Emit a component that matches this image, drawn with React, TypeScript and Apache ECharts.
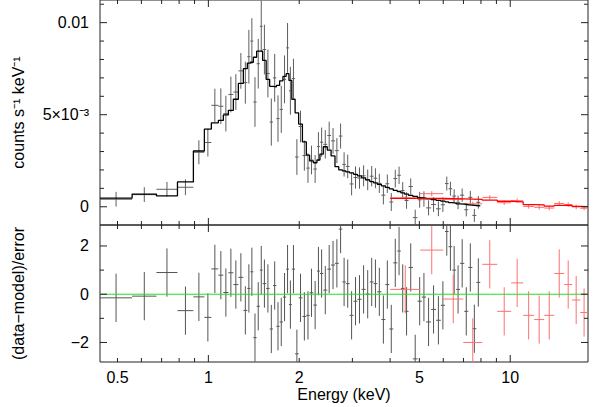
import React, { useEffect, useRef } from 'react';
import * as echarts from 'echarts';

// ---- axis ranges ----
const energyRange = [0.4375, 18.1];
const countsRange = [-0.00099, 0.01123];
const residRange = [-2.81, 2.87];

// ---- ticks ----
const xMajorTicks = [1, 10];
const xMinorTicks = [0.5, 0.6, 0.7, 0.8, 0.9, 2, 3, 4, 5, 6, 7, 8, 9];
const xTickValues = [0.5, 1, 2, 5, 10];
const xTickLabels = ['0.5', '1', '2', '5', '10'];
const countsMajorTicks = [0, 0.005, 0.01];
const countsMinorTicks = [0.001, 0.002, 0.003, 0.004, 0.006, 0.007, 0.008, 0.009, 0.011];
const countsTickLabels = ['0', '5×10⁻³', '0.01'];
const residMajorTicks = [-2, 0, 2];
const residMinorTicks = [-1, 1];
const residTickLabels = ['−2', '0', '2'];

// ---- black spectrum (keV bin edges) ----
const blackEdges = [0.4375, 0.559, 0.673, 0.79, 0.892, 0.970, 1.023, 1.079, 1.121, 1.165, 1.210, 1.257, 1.306, 1.346, 1.378, 1.409, 1.445, 1.481, 1.513, 1.554, 1.596, 1.637, 1.680, 1.722, 1.766, 1.810, 1.849, 1.890, 1.938, 1.991, 2.049, 2.111, 2.165, 2.227, 2.289, 2.342, 2.403, 2.477, 2.550, 2.627, 2.704, 2.780, 2.853, 2.937, 3.028, 3.117, 3.218, 3.318, 3.426, 3.527, 3.627, 3.743, 3.858, 3.975, 4.098, 4.225, 4.342, 4.467, 4.605, 4.759, 4.932, 5.093, 5.263, 5.467, 5.679, 5.888, 6.080, 6.248, 6.427, 6.616, 6.821, 7.044, 7.261, 7.492, 7.723, 7.958];
const blackModel = [0.00047, 0.00069, 0.00059, 0.00135, 0.00303, 0.00422, 0.00456, 0.00469, 0.00499, 0.00524, 0.00584, 0.0067, 0.0075, 0.0078, 0.00785, 0.00812, 0.00845, 0.00845, 0.00795, 0.00692, 0.00654, 0.00651, 0.00659, 0.00684, 0.00708, 0.00723, 0.00686, 0.00584, 0.0051, 0.00449, 0.00353, 0.00281, 0.00249, 0.00239, 0.00254, 0.00286, 0.00326, 0.00308, 0.00276, 0.00218, 0.002, 0.00195, 0.00189, 0.00184, 0.00176, 0.00168, 0.00157, 0.00146, 0.00137, 0.0013, 0.00122, 0.00114, 0.00105, 0.00097, 0.00089, 0.00083, 0.00076, 0.00069, 0.00062, 0.00056, 0.0005, 0.00047, 0.00043, 0.00039, 0.00035, 0.00031, 0.00027, 0.00023, 0.0002, 0.00016, 0.00014, 0.00011, 0.00009, 0.00007, 0.00005];
const blackData = [0.00041, 0.00066, 0.00095, 0.00106, 0.00296, 0.00349, 0.00551, 0.00546, 0.00506, 0.0061, 0.00623, 0.00738, 0.00674, 0.00815, 0.009, 0.00569, 0.00777, 0.0098, 0.00854, 0.00724, 0.0046, 0.007, 0.00479, 0.00529, 0.00692, 0.00863, 0.0063, 0.00696, 0.0027, 0.00436, 0.00278, 0.0021, 0.00254, 0.00205, 0.00327, 0.00351, 0.00339, 0.00387, 0.00358, 0.00305, 0.00384, 0.0023, 0.00219, 0.00124, 0.00159, 0.00156, 0.00168, 0.00146, 0.00166, 0.00155, 0.00127, 0.00063, 0.00125, 0.00026, 0.00153, 0.00171, 0.00088, 0.00034, 0.0011, -0.00059, 0.00038, 0.00042, -0.00006, 0.00012, -0.00011, 0.00011, 0.00126, 0.00098, 0.00058, 0.00024, 0.00063, -0.00016, 0.00051, -0.00047, 0.00024];
const blackErr = [0.0004, 0.0004, 0.0004, 0.00043, 0.00065, 0.00076, 0.0009, 0.00097, 0.00097, 0.00097, 0.00097, 0.00097, 0.00114, 0.00146, 0.00124, 0.00135, 0.00135, 0.0014, 0.00135, 0.0013, 0.00128, 0.0013, 0.00126, 0.00128, 0.0013, 0.00135, 0.0013, 0.00108, 0.00097, 0.00086, 0.00082, 0.0008, 0.00078, 0.00076, 0.00078, 0.00079, 0.00077, 0.00075, 0.0007, 0.00068, 0.00068, 0.00066, 0.00064, 0.00062, 0.0006, 0.00058, 0.00057, 0.00056, 0.00055, 0.00054, 0.00052, 0.0005, 0.0005, 0.00049, 0.00048, 0.00047, 0.00046, 0.00045, 0.00044, 0.00043, 0.00043, 0.00042, 0.00041, 0.0004, 0.0004, 0.00039, 0.00038, 0.00038, 0.00037, 0.00037, 0.00036, 0.00036, 0.00035, 0.00035, 0.00034];
const blackResid = [-0.15, -0.08, 0.9, -0.68, -0.11, -0.96, 1.05, 0.79, 0.07, 0.89, 0.4, 0.7, -0.67, 0.24, 0.93, -1.8, -0.5, 1.0, 0.44, 0.24, -1.44, 0.36, -1.33, -1.15, -0.12, 1.04, -0.43, 1.04, -2.47, -0.15, -0.92, -0.875, 0.06, -0.45, 0.96, 0.86, 0.17, 1.04, 1.21, 1.28, 2.7, 0.51, 0.44, -0.875, -0.29, -0.21, 0.2, 0, 0.51, 0.44, 0.1, -1.05, 0.4, -1.44, 1.3, 1.79, 0.24, -0.71, 1.11, -2.68, -0.29, -0.12, -1.15, -0.63, -1.08, -0.46, 2.6, 1.97, 1.0, 0.2, 1.28, -0.71, 1.11, -1.43, 0.49];

// ---- red spectrum ----
const redEdges = [4.005, 5.035, 6.0, 6.99, 8.08, 9.06, 10.07, 11.04, 12.0, 12.96, 13.99, 15.1, 16.04, 17.05, 18.1];
const redModel = [0.00046, 0.00045, 0.00043, 0.0004, 0.00036, 0.0003, 0.00027, 0.00012, 0.0001, 0.00004, 0.00008, 0.00007, 0.00002, 0.00001];
const redData = [0.00048, 0.00071, 0.00041, 0.00016, 0.00051, 0.00022, 0.00033, 0.00002, -0.00003, -0.00007, 0.00018, 0.00012, -0.00001, -0.00008];
const redErr = [0.00011, 0.00014, 0.00012, 0.00012, 0.00012, 0.00012, 0.00012, 0.00012, 0.00012, 0.00012, 0.00012, 0.00012, 0.00012, 0.00011];
const redResid = [0.2, 1.83, -0.2, -2.0, 1.24, -0.71, 0.47, -0.875, -1.05, -0.875, 0.86, 0.4, -0.24, -0.76];

const residErrorBar = 1;

const FONT = '"Liberation Sans", Arial, Helvetica, sans-serif';
const FRAME = '#222';
const MAJOR_LEN = 7;
const MINOR_LEN = 4;

function stepPoints(edges: number[], model: number[]) {
  const pts: number[][] = [];
  model.forEach((m, i) => {
    pts.push([edges[i], m]);
    pts.push([edges[i + 1], m]);
  });
  return pts;
}

function crossSeries(axis: number, edges: number[], vals: number[], errs: number[], color: string, z: number) {
  const data = vals.map((v, i) => [Math.sqrt(edges[i] * edges[i + 1]), v, edges[i], edges[i + 1], errs[i]]);
  return {
    type: 'custom',
    xAxisIndex: axis,
    yAxisIndex: axis,
    silent: true,
    clip: true,
    z,
    data,
    renderItem: (_p: any, api: any) => {
      const c = api.value(0), v = api.value(1), lo = api.value(2), hi = api.value(3), e = api.value(4);
      const a = api.coord([lo, v]);
      const b = api.coord([hi, v]);
      const t = api.coord([c, v + e]);
      const d = api.coord([c, v - e]);
      const style = { stroke: color, lineWidth: 1 };
      return {
        type: 'group',
        children: [
          { type: 'line', shape: { x1: a[0], y1: a[1], x2: b[0], y2: b[1] }, style },
          { type: 'line', shape: { x1: t[0], y1: t[1], x2: d[0], y2: d[1] }, style },
        ],
      };
    },
  };
}

function xTickSeries(axis: number, yr: number[]) {
  const data = xMajorTicks.map((v) => [v, yr[0], 1]).concat(xMinorTicks.map((v) => [v, yr[0], 0]));
  return {
    type: 'custom',
    xAxisIndex: axis,
    yAxisIndex: axis,
    silent: true,
    z: 10,
    data,
    renderItem: (_p: any, api: any) => {
      const v = api.value(0);
      const len = api.value(2) ? MAJOR_LEN : MINOR_LEN;
      const b = api.coord([v, yr[0]]);
      const t = api.coord([v, yr[1]]);
      const style = { stroke: FRAME, lineWidth: 1 };
      return {
        type: 'group',
        children: [
          { type: 'line', shape: { x1: b[0], y1: b[1], x2: b[0], y2: b[1] - len }, style },
          { type: 'line', shape: { x1: t[0], y1: t[1], x2: t[0], y2: t[1] + len }, style },
        ],
      };
    },
  };
}

function yTickSeries(axis: number, majors: number[], minors: number[]) {
  const data = majors.map((v) => [energyRange[0], v, 1]).concat(minors.map((v) => [energyRange[0], v, 0]));
  return {
    type: 'custom',
    xAxisIndex: axis,
    yAxisIndex: axis,
    silent: true,
    z: 10,
    data,
    renderItem: (_p: any, api: any) => {
      const v = api.value(1);
      const len = api.value(2) ? MAJOR_LEN : MINOR_LEN;
      const l = api.coord([energyRange[0], v]);
      const r = api.coord([energyRange[1], v]);
      const style = { stroke: FRAME, lineWidth: 1 };
      return {
        type: 'group',
        children: [
          { type: 'line', shape: { x1: l[0], y1: l[1], x2: l[0] + len, y2: l[1] }, style },
          { type: 'line', shape: { x1: r[0], y1: r[1], x2: r[0] - len, y2: r[1] }, style },
        ],
      };
    },
  };
}

function xLabelSeries(axis: number, yr: number[]) {
  return {
    type: 'custom',
    xAxisIndex: axis,
    yAxisIndex: axis,
    silent: true,
    z: 10,
    data: xTickValues.map((v) => [v, yr[0]]),
    renderItem: (p: any, api: any) => {
      const c = api.coord([api.value(0), yr[0]]);
      return {
        type: 'text',
        x: c[0],
        y: c[1] + 7,
        style: { text: xTickLabels[p.dataIndex], fill: '#000', fontSize: 16, fontFamily: FONT, align: 'center', verticalAlign: 'top' },
      };
    },
  };
}

function yLabelSeries(axis: number, values: number[], labels: string[]) {
  return {
    type: 'custom',
    xAxisIndex: axis,
    yAxisIndex: axis,
    silent: true,
    z: 10,
    data: values.map((v) => [energyRange[0], v]),
    renderItem: (p: any, api: any) => {
      const c = api.coord([energyRange[0], api.value(1)]);
      return {
        type: 'text',
        x: c[0] - 11,
        y: c[1],
        style: { text: labels[p.dataIndex], fill: '#000', fontSize: 16, fontFamily: FONT, align: 'right', verticalAlign: 'middle' },
      };
    },
  };
}

function buildOption() {
  const hidden = {
    axisLine: { show: false },
    axisTick: { show: false },
    axisLabel: { show: false },
    splitLine: { show: false },
  };
  const nameStyle = { fontSize: 16, color: '#000', fontFamily: FONT };
  return {
    animation: false,
    backgroundColor: '#fff',
    grid: [
      { left: 100, top: -1, width: 488, height: 226, show: true, borderColor: FRAME, borderWidth: 1, backgroundColor: 'transparent' },
      { left: 100, top: 225, width: 488, height: 137, show: true, borderColor: FRAME, borderWidth: 1, backgroundColor: 'transparent' },
    ],
    xAxis: [
      { type: 'log', gridIndex: 0, min: energyRange[0], max: energyRange[1], ...hidden },
      {
        type: 'log', gridIndex: 1, min: energyRange[0], max: energyRange[1], ...hidden,
        name: 'Energy (keV)', nameLocation: 'middle', nameGap: 24, nameTextStyle: nameStyle,
      },
    ],
    yAxis: [
      {
        type: 'value', gridIndex: 0, min: countsRange[0], max: countsRange[1], ...hidden,
        name: 'counts s⁻¹ keV⁻¹', nameLocation: 'middle', nameRotate: 90, nameGap: 74, nameTextStyle: nameStyle,
      },
      {
        type: 'value', gridIndex: 1, min: residRange[0], max: residRange[1], ...hidden,
        name: '(data−model)/error', nameLocation: 'middle', nameRotate: 90, nameGap: 74, nameTextStyle: nameStyle,
      },
    ],
    series: [
      crossSeries(0, blackEdges, blackData, blackErr, '#5e5e5e', 2),
      crossSeries(0, redEdges, redData, redErr, '#ff6a6a', 2),
      {
        type: 'line', xAxisIndex: 0, yAxisIndex: 0, data: stepPoints(blackEdges, blackModel),
        symbol: 'none', silent: true, clip: true, z: 4, lineStyle: { color: '#000', width: 1.3 },
      },
      {
        type: 'line', xAxisIndex: 0, yAxisIndex: 0, data: stepPoints(redEdges, redModel),
        symbol: 'none', silent: true, clip: true, z: 4, lineStyle: { color: '#ff0000', width: 1.3 },
      },
      crossSeries(1, blackEdges, blackResid, blackResid.map(() => residErrorBar), '#555555', 2),
      crossSeries(1, redEdges, redResid, redResid.map(() => residErrorBar), '#ff7070', 2),
      {
        type: 'line', xAxisIndex: 1, yAxisIndex: 1, data: [[energyRange[0], 0], [energyRange[1], 0]],
        symbol: 'none', silent: true, z: 5, lineStyle: { color: '#22e022', width: 1 },
      },
      xTickSeries(0, countsRange),
      xTickSeries(1, residRange),
      yTickSeries(0, countsMajorTicks, countsMinorTicks),
      yTickSeries(1, residMajorTicks, residMinorTicks),
      xLabelSeries(1, residRange),
      yLabelSeries(0, countsMajorTicks, countsTickLabels),
      yLabelSeries(1, residMajorTicks, residTickLabels),
    ],
  };
}

export default function App() {
  const ref = useRef<HTMLDivElement>(null);
  useEffect(() => {
    const chart = echarts.init(ref.current as HTMLDivElement, null, { renderer: 'svg' });
    chart.setOption(buildOption() as any);
    return () => chart.dispose();
  }, []);
  return <div ref={ref} style={{ position: 'absolute', left: 0, top: 0, width: 598, height: 407 }} />;
}
